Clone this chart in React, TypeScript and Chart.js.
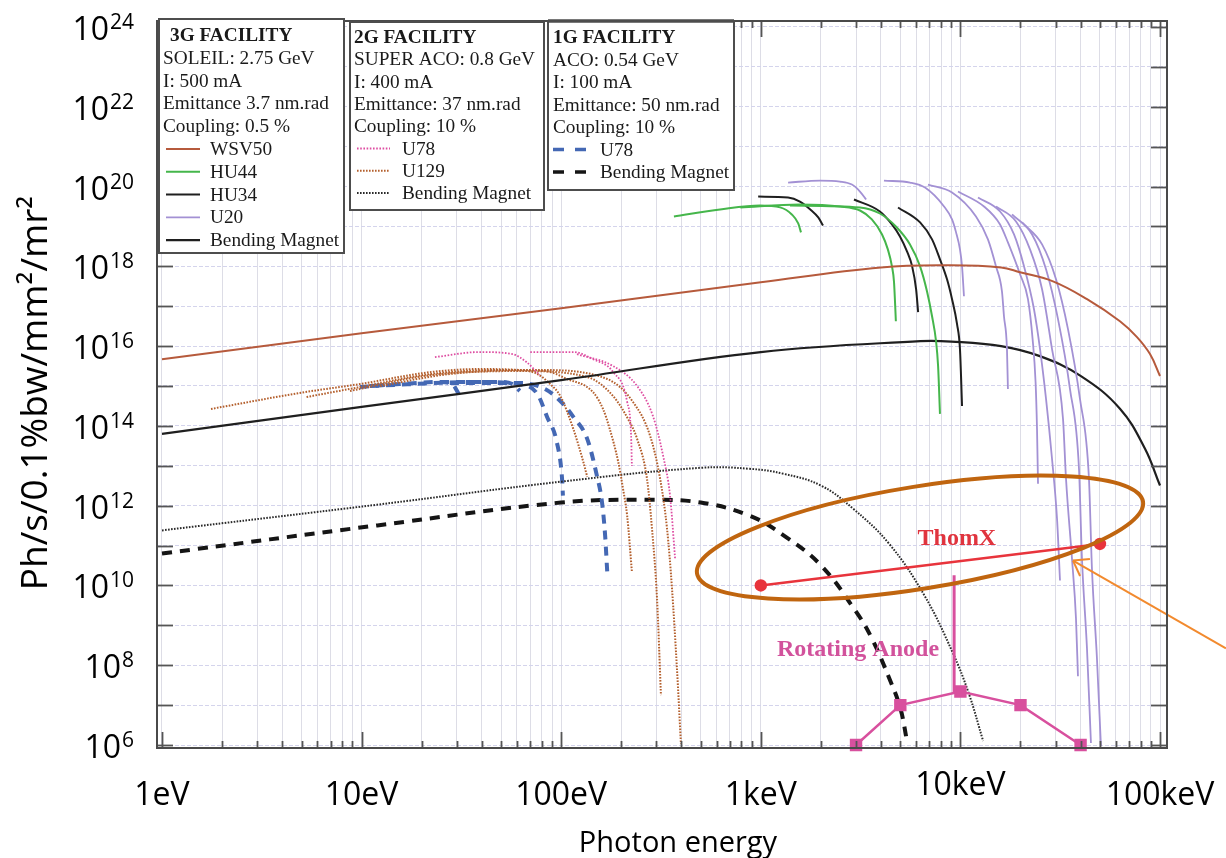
import React, { useEffect, useRef } from "react";
import { Chart, registerables } from "chart.js";

Chart.register(...registerables);

type Pt = [number, number]; // [photon energy in eV, brightness in Ph/s/0.1%bw/mm²/mr²]

// ---------- axes ----------
const X_MIN = 0.944;
const X_MAX = 108400;
const Y_MIN = 8.41e5;
const Y_MAX = 1.413e24;
const X_DECADES = [1, 10, 100, 1000, 10000, 100000];
const X_TICK_LABELS = ["1eV", "10eV", "100eV", "1keV", "10keV", "100keV"];
const X_MULTIPLIERS = [1, 2, 3, 4, 5, 6, 7, 8, 9];
const Y_DECADE_EXPONENTS = [6, 7, 8, 9, 10, 11, 12, 13, 14, 15, 16, 17, 18, 19, 20, 21, 22, 23, 24];
const Y_LABEL_EXPONENTS = [6, 8, 10, 12, 14, 16, 18, 20, 22, 24];

// ---------- 3G facility : SOLEIL ----------
const WSV50: Pt[] = [[1, 4.7e15], [10, 2.1e16], [100, 8.9e16], [1000, 4.0e17], [4000, 9.4e17], [9000, 1.06e18], [16000, 9.4e17], [19900, 7.1e17], [29100, 4.2e17], [43100, 1.5e17], [63000, 4.2e16], [76700, 1.68e16], [89100, 6.3e15], [100000, 1.78e15]];
const BM_3G: Pt[] = [[1, 6.3e13], [10, 3.0e14], [100, 1.4e15], [1000, 7.1e15], [6300, 1.33e16], [9000, 1.3e16], [16000, 1.0e16], [25000, 5.6e15], [40000, 1.8e15], [63000, 2.7e14], [84000, 2.7e13], [100000, 3.2e12]];
const HU44_1: Pt[] = [[367, 1.78e19], [625, 2.66e19], [990, 3.35e19], [1250, 3.0e19], [1430, 2.0e19], [1540, 1.19e19], [1590, 7.1e18]];
const HU44_2: Pt[] = [[790, 3.0e19], [1570, 3.55e19], [2500, 3.16e19], [3140, 2.51e19], [3600, 1.5e19], [4050, 6.3e18], [4330, 2.66e18], [4540, 1.0e18], [4650, 4.0e17], [4750, 4.2e16]];
const HU44_3: Pt[] = [[1400, 3.35e19], [3140, 3.0e19], [3950, 2.11e19], [4750, 1.0e19], [5590, 3.55e18], [6280, 1.0e18], [6800, 2.37e17], [7210, 5.6e16], [7550, 1.33e16], [7730, 3.16e15], [7900, 2.0e14]];
const HU34_1: Pt[] = [[970, 5.6e19], [1370, 5.3e19], [1570, 4.2e19], [1770, 2.66e19], [1940, 1.68e19], [2050, 1.06e19]];
const HU34_2: Pt[] = [[2930, 4.73e19], [3950, 2.37e19], [4540, 1.12e19], [4980, 5.6e18], [5400, 2.37e18], [5730, 1.0e18], [6000, 2.66e17], [6140, 7.1e16]];
const HU34_3: Pt[] = [[4870, 2.99e19], [6280, 1.26e19], [7210, 4.73e18], [7900, 1.5e18], [8570, 4.73e17], [9080, 1.5e17], [9620, 3.55e16], [9950, 8.4e15], [10190, 3.16e14]];
const U20_1: Pt[] = [[1370, 1.26e20], [1980, 1.41e20], [2490, 1.33e20], [2860, 1.12e20], [3140, 7.5e19], [3370, 4.73e19]];
const U20_2: Pt[] = [[4140, 1.41e20], [5590, 1.26e20], [6650, 9.4e19], [8280, 3.16e19], [9080, 1.5e19], [9510, 7.1e18], [9950, 2.66e18], [10190, 1.0e18], [10420, 1.78e17]];
const U20_3: Pt[] = [[6880, 1.12e20], [9080, 7.1e19], [11970, 1.78e19], [13740, 4.73e18], [15070, 1.0e18], [16150, 2.37e17], [16530, 5.6e16], [17110, 8.4e15], [17300, 8.4e14]];
const U20_4: Pt[] = [[9730, 7.5e19], [13130, 3.16e19], [15800, 1.12e19], [17300, 3.98e18], [19900, 6.3e17], [21800, 1.5e17], [23000, 1.5e16], [23800, 1.26e15], [24200, 8.4e13], [24480, 3.55e12]];
const U20_5: Pt[] = [[12250, 5.3e19], [15800, 2.37e19], [18560, 6.3e18], [20830, 1.0e18], [23370, 8.4e16], [25060, 8.4e15], [26850, 4.73e14], [28770, 1.5e13], [30480, 4.73e11], [31550, 1.33e10]];
const U20_6: Pt[] = [[15070, 3.16e19], [18990, 1.33e19], [22320, 2.66e18], [25650, 2.66e17], [28770, 8.4e15], [32660, 1.5e14], [33810, 4.73e12], [36220, 4.73e10], [37930, 1.5e9], [38810, 5.3e7]];
const U20_7: Pt[] = [[18140, 2.0e19], [22860, 6.3e18], [26850, 8.4e17], [30830, 4.73e16], [35400, 8.4e14], [39270, 8.4e12], [40640, 4.73e10], [43060, 2.66e8], [45080, 1.12e6]];
const U20_8: Pt[] = [[20350, 1.26e19], [25650, 3.55e18], [30130, 4.73e17], [34590, 2.66e16], [39720, 4.73e14], [44060, 4.73e12], [45600, 2.66e10], [48310, 1.5e8], [50580, 9.4e5]];

// ---------- 2G facility : SUPER ACO ----------
const U78_2G_1: Pt[] = [[23.3, 5.3e15], [39, 7.1e15], [57, 6.3e15], [67, 3.98e15], [78, 1.88e15]];
const U78_2G_2: Pt[] = [[70, 7.1e15], [115, 7.1e15], [144, 4.73e15], [182, 2.24e15], [214, 3.98e14], [224, 5.6e13], [226, 1.0e13]];
const U78_2G_3: Pt[] = [[120, 6.3e15], [182, 3.16e15], [240, 1.0e15], [288, 1.78e14], [324, 1.78e13], [351, 1.78e12], [372, 4.73e10]];
const U129_1: Pt[] = [[1.76, 2.66e14], [4.9, 6.7e14], [9.8, 1.12e15], [22.3, 2.24e15], [39, 2.66e15], [62, 2.51e15], [76, 2.0e15], [88, 1.12e15], [99, 5.6e14], [115, 8.4e13], [129, 1.26e13], [135, 5.3e12]];
const U129_2: Pt[] = [[5.3, 5.3e14], [9.8, 9.4e14], [22.3, 2.0e15], [49, 2.51e15], [83, 2.37e15], [107, 1.5e15], [144, 7.1e14], [162, 2.66e14], [175, 8.4e13], [193, 1.26e13], [204, 2.66e12], [214, 5.6e11], [226, 2.24e10]];
const U129_3: Pt[] = [[8.75, 7.5e14], [22.3, 1.88e15], [62, 2.37e15], [135, 1.68e15], [182, 5.6e14], [216, 1.5e14], [240, 4.73e13], [269, 4.73e12], [285, 2.66e11], [302, 4.73e9], [316, 1.78e7]];
const U129_4: Pt[] = [[12.4, 1.0e15], [27.7, 2.0e15], [78, 2.51e15], [170, 1.5e15], [229, 3.98e14], [279, 5.6e13], [313, 4.73e12], [339, 2.66e11], [359, 8.4e9], [380, 8.4e7], [398, 1.06e6]];
const BM_2G: Pt[] = [[1, 2.4e11], [12, 1.06e12], [100, 4.0e12], [500, 8.9e12], [880, 8.4e12], [1300, 6.3e12], [2000, 3.2e12], [2900, 8.4e11], [4400, 1.1e11], [6600, 5.6e9], [9100, 2.2e8], [11000, 2.0e7], [13000, 1.26e6]];

// ---------- 1G facility : ACO ----------
const U78_1G_1: Pt[] = [[9.8, 9.4e14], [15.6, 1.12e15], [24.7, 1.26e15], [28.4, 1.12e15], [31.1, 5.6e14]];
const U78_1G_2: Pt[] = [[24.7, 1.26e15], [49, 1.26e15], [57, 1.12e15], [62, 7.5e14]];
const U78_1G_3: Pt[] = [[11, 1.0e15], [39, 1.26e15], [62, 1.12e15], [76, 6.3e14], [85, 1.68e14], [95, 3.98e13], [101, 4.73e12], [102, 1.78e12]];
const U78_1G_4: Pt[] = [[27.7, 1.19e15], [62, 1.19e15], [83, 8.4e14], [99, 4.2e14], [115, 1.68e14], [135, 4.73e13], [151, 5.6e12], [160, 1.26e12], [166, 1.78e11], [170, 2.24e10]];
const BM_1G: Pt[] = [[1, 6.3e10], [12, 3.2e11], [100, 1.2e12], [270, 1.4e12], [500, 1.2e12], [880, 5.6e11], [1300, 1.8e11], [2000, 3.2e10], [3000, 2.2e9], [3600, 4.7e8], [4400, 4.7e7], [5000, 8.4e6], [5400, 1.26e6]];

// ---------- compact sources ----------
const THOMX: Pt[] = [[1000, 1.0e10], [50000, 1.1e11]];
const ROT_ANODE: Pt[] = [[3000, 1e6], [5000, 1e7], [10000, 2.2e7], [20000, 1e7], [40000, 1e6]];
const ROT_ANODE_STEM: Pt[] = [[9300, 1.8e10], [9300, 2.0e7]];

// ---------- annotations (anchored in data space) ----------
const THOMX_LABEL_AT: Pt = [9600, 1.06e11];
const ANODE_LABEL_AT: Pt = [3070, 1.68e8];
const ELLIPSE_LEFT_END: Pt = [479, 2.0e10];
const ELLIPSE_RIGHT_END: Pt = [82200, 1.26e12];
const ELLIPSE_MINOR_DECADES = 1.28;
const ARROW_HEAD: Pt = [36650, 4.2e10];
const ARROW_TAIL: Pt = [214000, 2.66e8];

// ---------- styles ----------
const STYLES: Record<string, { color: string; width: number; dash: number[]; smooth?: boolean }> = {
  wsv50: { color: "#b65a3c", width: 2, dash: [], smooth: true },
  hu44: { color: "#45b64b", width: 2, dash: [] },
  hu34: { color: "#1f1f1f", width: 2, dash: [] },
  u20: { color: "#a391d4", width: 1.8, dash: [] },
  bm3g: { color: "#1f1f1f", width: 2.2, dash: [], smooth: true },
  u78_2g: { color: "#de4ea2", width: 1.8, dash: [1.6, 1.6] },
  u129: { color: "#b4602e", width: 2, dash: [1.6, 1.4] },
  bm2g: { color: "#2a2a2a", width: 2, dash: [1.6, 1.4], smooth: true },
  u78_1g: { color: "#4468b4", width: 4, dash: [9, 7] },
  bm1g: { color: "#151515", width: 4, dash: [10, 8], smooth: true },
};

const SERIES: { name: string; pts: Pt[]; style: string }[] = [
  { name: "WSV50", pts: WSV50, style: "wsv50" },
  { name: "HU44 (1)", pts: HU44_1, style: "hu44" },
  { name: "HU44 (2)", pts: HU44_2, style: "hu44" },
  { name: "HU44 (3)", pts: HU44_3, style: "hu44" },
  { name: "HU34 (1)", pts: HU34_1, style: "hu34" },
  { name: "HU34 (2)", pts: HU34_2, style: "hu34" },
  { name: "HU34 (3)", pts: HU34_3, style: "hu34" },
  { name: "U20 (1)", pts: U20_1, style: "u20" },
  { name: "U20 (2)", pts: U20_2, style: "u20" },
  { name: "U20 (3)", pts: U20_3, style: "u20" },
  { name: "U20 (4)", pts: U20_4, style: "u20" },
  { name: "U20 (5)", pts: U20_5, style: "u20" },
  { name: "U20 (6)", pts: U20_6, style: "u20" },
  { name: "U20 (7)", pts: U20_7, style: "u20" },
  { name: "U20 (8)", pts: U20_8, style: "u20" },
  { name: "Bending Magnet 3G", pts: BM_3G, style: "bm3g" },
  { name: "U78 2G (1)", pts: U78_2G_1, style: "u78_2g" },
  { name: "U78 2G (2)", pts: U78_2G_2, style: "u78_2g" },
  { name: "U78 2G (3)", pts: U78_2G_3, style: "u78_2g" },
  { name: "U129 (1)", pts: U129_1, style: "u129" },
  { name: "U129 (2)", pts: U129_2, style: "u129" },
  { name: "U129 (3)", pts: U129_3, style: "u129" },
  { name: "U129 (4)", pts: U129_4, style: "u129" },
  { name: "Bending Magnet 2G", pts: BM_2G, style: "bm2g" },
  { name: "U78 1G (1)", pts: U78_1G_1, style: "u78_1g" },
  { name: "U78 1G (2)", pts: U78_1G_2, style: "u78_1g" },
  { name: "U78 1G (3)", pts: U78_1G_3, style: "u78_1g" },
  { name: "U78 1G (4)", pts: U78_1G_4, style: "u78_1g" },
  { name: "Bending Magnet 1G", pts: BM_1G, style: "bm1g" },
];

const LEGENDS = [
  {
    title: "3G FACILITY",
    info: ["SOLEIL: 2.75 GeV", "I: 500 mA", "Emittance 3.7 nm.rad", "Coupling: 0.5 %"],
    items: [["WSV50", "wsv50"], ["HU44", "hu44"], ["HU34", "hu34"], ["U20", "u20"], ["Bending Magnet", "bm3g"]],
  },
  {
    title: "2G FACILITY",
    info: ["SUPER ACO: 0.8 GeV", "I: 400 mA", "Emittance: 37 nm.rad", "Coupling: 10 %"],
    items: [["U78", "u78_2g"], ["U129", "u129"], ["Bending Magnet", "bm2g"]],
  },
  {
    title: "1G FACILITY",
    info: ["ACO: 0.54 GeV", "I: 100 mA", "Emittance: 50 nm.rad", "Coupling: 10 %"],
    items: [["U78", "u78_1g"], ["Bending Magnet", "bm1g"]],
  },
];

const SANS = '"Open Sans", "Noto Sans", Arial, sans-serif';
const SERIF = '"Liberation Serif", "Times New Roman", serif';

const X_GRID = X_DECADES.flatMap((d) => (d === 100000 ? [d] : X_MULTIPLIERS.map((m) => d * m)));
const Y_GRID = Y_DECADE_EXPONENTS.map((e) => Number("1e" + e));

function seg(ctx: CanvasRenderingContext2D, x1: number, y1: number, x2: number, y2: number) {
  ctx.beginPath();
  ctx.moveTo(x1, y1);
  ctx.lineTo(x2, y2);
  ctx.stroke();
}

const decor = {
  id: "decor",
  afterDatasetsDraw(chart: any) {
    const ctx: CanvasRenderingContext2D = chart.ctx;
    const xs = chart.scales.x;
    const ys = chart.scales.y;
    const P = (p: Pt) => [xs.getPixelForValue(p[0]), ys.getPixelForValue(p[1])];
    ctx.save();
    // ellipse
    const [lx, ly] = P(ELLIPSE_LEFT_END);
    const [rx, ry] = P(ELLIPSE_RIGHT_END);
    const a = Math.hypot(rx - lx, ry - ly) / 2;
    const ang = Math.atan2(ry - ly, rx - lx);
    const dec = Math.abs(ys.getPixelForValue(1e10) - ys.getPixelForValue(1e11));
    ctx.beginPath();
    ctx.ellipse((lx + rx) / 2, (ly + ry) / 2, a, ELLIPSE_MINOR_DECADES * dec, ang, 0, Math.PI * 2);
    ctx.strokeStyle = "#c0650f";
    ctx.lineWidth = 4;
    ctx.stroke();
    // labels
    ctx.textAlign = "center";
    ctx.textBaseline = "alphabetic";
    ctx.font = `bold 24px ${SERIF}`;
    ctx.fillStyle = "#e0343e";
    const [tx, ty] = P(THOMX_LABEL_AT);
    ctx.fillText("ThomX", tx, ty);
    ctx.fillStyle = "#d2529c";
    const [ax, ay] = P(ANODE_LABEL_AT);
    ctx.fillText("Rotating Anode", ax, ay);
    // arrow
    const [hx, hy] = P(ARROW_HEAD);
    const [qx, qy] = P(ARROW_TAIL);
    ctx.strokeStyle = "#f28a2e";
    ctx.lineWidth = 2;
    seg(ctx, qx, qy, hx, hy);
    const th = Math.atan2(qy - hy, qx - hx);
    for (const d of [-0.62, 0.62]) seg(ctx, hx, hy, hx + 17 * Math.cos(th + d), hy + 17 * Math.sin(th + d));
    ctx.restore();
  },
  afterDraw(chart: any) {
    const ctx: CanvasRenderingContext2D = chart.ctx;
    const xs = chart.scales.x;
    const ys = chart.scales.y;
    const { left, right, top, bottom } = chart.chartArea;
    ctx.save();
    // inner tick marks
    ctx.strokeStyle = "#555";
    ctx.lineWidth = 1.8;
    for (const v of X_GRID) {
      const px = Math.round(xs.getPixelForValue(v)) + 0.5;
      const len = X_DECADES.includes(v) ? 16 : 7;
      seg(ctx, px, bottom, px, bottom - len);
      seg(ctx, px, top, px, top + len);
    }
    for (const v of Y_GRID) {
      const py = Math.round(ys.getPixelForValue(v)) + 0.5;
      seg(ctx, left, py, left + 16, py);
      seg(ctx, right, py, right - 16, py);
    }
    // frame
    ctx.strokeStyle = "#4a4a4a";
    ctx.lineWidth = 2;
    ctx.strokeRect(left, top, right - left, bottom - top);

    // y tick labels 10^n
    ctx.fillStyle = "#000";
    ctx.textBaseline = "alphabetic";
    for (const e of Y_LABEL_EXPONENTS) {
      const py = ys.getPixelForValue(Number("1e" + e));
      const sup = String(e);
      ctx.font = `21px ${SANS}`;
      const ws = ctx.measureText(sup).width;
      const xr = 134;
      ctx.textAlign = "left";
      ctx.fillText(sup, xr - ws, py + 2);
      ctx.font = `32px ${SANS}`;
      ctx.textAlign = "right";
      ctx.fillText("10", xr - ws - 1, py + 13);
    }
    // x tick labels
    ctx.font = `32px ${SANS}`;
    ctx.textAlign = "center";
    X_DECADES.forEach((v, i) => {
      const px = xs.getPixelForValue(v);
      const lift = X_TICK_LABELS[i] === "10keV" ? 10 : 0;
      ctx.fillText(X_TICK_LABELS[i], px, bottom + 57 - lift);
    });
    // axis titles
    ctx.font = `29px ${SANS}`;
    ctx.fillText("Photon energy", (left + right) / 2 + 16, bottom + 104);
    ctx.save();
    ctx.translate(47, 393);
    ctx.rotate(-Math.PI / 2);
    ctx.font = `37px ${SANS}`;
    ctx.fillText("Ph/s/0.1%bw/mm²/mr²", 0, 0);
    ctx.restore();

    // legend boxes
    const boxes = [
      { x: 159, y: 19, w: 185, h: 234, tx: 163, titleX: 170, base: 41, step: 22.8, sx0: 166, sx1: 200, lx: 210, topW: 2 },
      { x: 350, y: 22, w: 194, h: 188, tx: 354, titleX: 354, base: 43, step: 22.3, sx0: 357, sx1: 390, lx: 402, topW: 2 },
      { x: 548, y: 21, w: 186, h: 169, tx: 553, titleX: 553, base: 43, step: 22.5, sx0: 553, sx1: 588, lx: 600, topW: 3.5 },
    ];
    LEGENDS.forEach((lg, bi) => {
      const b = boxes[bi];
      ctx.fillStyle = "#fff";
      ctx.fillRect(b.x, b.y, b.w, b.h);
      ctx.strokeStyle = "#4d4d4d";
      ctx.lineWidth = 2;
      ctx.setLineDash([]);
      ctx.strokeRect(b.x, b.y, b.w, b.h);
      ctx.lineWidth = b.topW;
      seg(ctx, b.x, b.y, b.x + b.w, b.y);
      ctx.textAlign = "left";
      ctx.fillStyle = "#1a1a1a";
      ctx.font = `bold 19.3px ${SERIF}`;
      ctx.fillText(lg.title, b.titleX, b.base);
      ctx.font = `19.3px ${SERIF}`;
      lg.info.forEach((t, i) => ctx.fillText(t, b.tx, b.base + b.step * (i + 1)));
      lg.items.forEach(([label, key], i) => {
        const yb = b.base + b.step * (i + 1 + lg.info.length);
        const st = STYLES[key];
        ctx.save();
        ctx.strokeStyle = st.color;
        ctx.lineWidth = bi === 2 ? 3.5 : st.width;
        ctx.setLineDash(bi === 2 ? [11, 11] : st.dash);
        seg(ctx, b.sx0, yb - 6, b.sx1, yb - 6);
        ctx.restore();
        ctx.fillStyle = "#1a1a1a";
        ctx.fillText(label, b.lx, yb);
      });
    });
    ctx.restore();
  },
};

export default function App() {
  const ref = useRef<HTMLCanvasElement>(null);
  useEffect(() => {
    const canvas = ref.current;
    if (!canvas) return;
    const lineSets = SERIES.map((s) => {
      const st = STYLES[s.style];
      return {
        label: s.name,
        data: s.pts.map(([x, y]) => ({ x, y })),
        borderColor: st.color,
        backgroundColor: st.color,
        borderWidth: st.width,
        borderDash: st.dash,
        pointRadius: 0,
        fill: false,
        tension: st.smooth ? 0.4 : 0,
        cubicInterpolationMode: st.smooth ? ("default" as const) : ("monotone" as const),
      };
    });
    const compact = [
      {
        label: "ThomX",
        data: THOMX.map(([x, y]) => ({ x, y })),
        borderColor: "#e8343c",
        backgroundColor: "#e8343c",
        borderWidth: 2.5,
        pointRadius: 5,
        pointStyle: "circle",
        tension: 0,
        clip: false as any,
      },
      {
        label: "Rotating Anode",
        data: ROT_ANODE.map(([x, y]) => ({ x, y })),
        borderColor: "#d8509e",
        backgroundColor: "#d8509e",
        borderWidth: 2.5,
        pointRadius: 7,
        pointStyle: "rect",
        tension: 0,
        clip: false as any,
      },
      {
        label: "Rotating Anode line",
        data: ROT_ANODE_STEM.map(([x, y]) => ({ x, y })),
        borderColor: "#d8509e",
        borderWidth: 3,
        pointRadius: 0,
        tension: 0,
      },
    ];
    const chart = new Chart(canvas, {
      type: "line",
      data: { datasets: [...compact, ...lineSets] as any },
      options: {
        animation: false,
        responsive: false,
        devicePixelRatio: 1,
        events: [],
        layout: { padding: { left: 157, top: 21, right: 59, bottom: 110 } },
        plugins: { legend: { display: false }, tooltip: { enabled: false }, title: { display: false } },
        scales: {
          x: {
            type: "logarithmic",
            min: X_MIN,
            max: X_MAX,
            afterBuildTicks: (s: any) => {
              s.ticks = X_GRID.map((v) => ({ value: v }));
            },
            ticks: { display: false },
            grid: { color: "#dddde6", lineWidth: 1, drawTicks: false },
            border: { display: false },
          },
          y: {
            type: "logarithmic",
            min: Y_MIN,
            max: Y_MAX,
            afterBuildTicks: (s: any) => {
              s.ticks = Y_GRID.map((v) => ({ value: v }));
            },
            ticks: { display: false },
            grid: { color: "#d4d4ec", lineWidth: 1, drawTicks: false },
            border: { display: false, dash: [4, 2] },
          },
        },
      } as any,
      plugins: [decor],
    });
    return () => chart.destroy();
  }, []);
  return (
    <div style={{ position: "fixed", left: 0, top: 0, width: 1226, height: 858, background: "#fff" }}>
      <canvas ref={ref} width={1226} height={858} style={{ display: "block" }} />
    </div>
  );
}
